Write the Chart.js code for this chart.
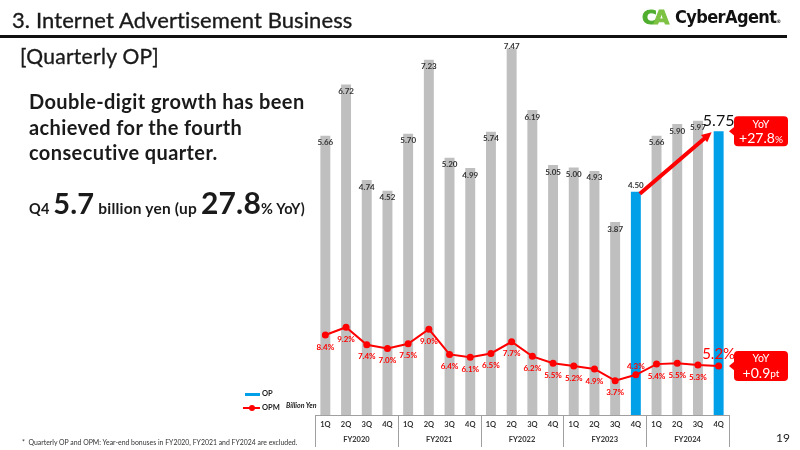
<!DOCTYPE html>
<html>
<head>
<meta charset="utf-8">
<script src="https://cdn.jsdelivr.net/npm/chart.js@4"></script>
<style>
body{margin:0;width:800px;height:450px;position:relative;overflow:hidden;background:#fff;font-family:Lato,"Noto Sans",sans-serif;color:#1a1a1a}
#c{position:absolute;left:0;top:0}
.t{position:absolute;white-space:nowrap}
.med{-webkit-text-stroke:0.35px #1a1a1a}
</style>
</head>
<body>
<canvas id="c" width="800" height="450"></canvas>

<div class="t med" style="left:12px;top:6px;font-size:22px;letter-spacing:0.1px">3. Internet Advertisement Business</div>
<div style="position:absolute;left:0;top:35px;width:787px;height:3px;background:#111"></div>
<div class="t" style="left:642px;top:5px;font-size:20px;font-weight:900;font-family:'DejaVu Sans';letter-spacing:-3px;-webkit-text-stroke:1px #4fae2e"><span style="color:#4fae2e">C</span><span style="color:#7dc242;-webkit-text-stroke:1px #7dc242">A</span></div>
<div class="t" style="left:675px;top:6px;font-size:18px;font-weight:bold;font-family:'DejaVu Sans Condensed','DejaVu Sans';color:#111;letter-spacing:-0.6px">CyberAgent<span style="font-size:5px">&reg;</span></div>

<div class="t med" style="left:20px;top:43px;font-size:21px;letter-spacing:0.3px">[Quarterly OP]</div>

<div class="t" style="left:29px;top:89px;font-size:20px;font-weight:bold;line-height:25.5px;letter-spacing:0.4px">Double-digit growth has been<br>achieved for the fourth<br>consecutive quarter.</div>

<div class="t" style="left:29px;top:184px;font-weight:bold;letter-spacing:0.2px">
  <span style="font-size:14.5px">Q4 </span><span style="font-size:29px">5.7</span><span style="font-size:15.5px"> billion yen (up </span><span style="font-size:30px">27.8</span><span style="font-size:14.5px">% YoY)</span>
</div>

<div style="position:absolute;left:245px;top:393px;width:15px;height:3px;background:#00a0e9"></div>
<div class="t" style="left:262px;top:389px;font-size:7.5px;font-weight:bold">OP</div>
<div style="position:absolute;left:243px;top:407px;width:17px;height:2px;background:#ff0000"></div>
<div style="position:absolute;left:249px;top:405px;width:6px;height:6px;border-radius:3px;background:#ff0000"></div>
<div class="t" style="left:262px;top:403px;font-size:7.5px;font-weight:bold">OPM</div>
<div class="t" style="left:286px;top:401px;font-size:7px;font-weight:bold;font-style:italic">Billion Yen</div>

<div class="t" style="left:22px;top:438px;font-size:6.9px;color:#333">*&nbsp; Quarterly OP and OPM: Year-end bonuses in FY2020, FY2021 and FY2024 are excluded.</div>
<div class="t" style="left:776px;top:430px;font-size:12px">19</div>

<script>
const quarters = ['1Q','2Q','3Q','4Q','1Q','2Q','3Q','4Q','1Q','2Q','3Q','4Q','1Q','2Q','3Q','4Q','1Q','2Q','3Q','4Q'];
const fiscalYears = ['FY2020','FY2021','FY2022','FY2023','FY2024'];
const opValues = [5.66, 6.72, 4.74, 4.52, 5.70, 7.23, 5.20, 4.99, 5.74, 7.47, 6.19, 5.05, 5.00, 4.93, 3.87, 4.50, 5.66, 5.90, 5.97, 5.75];
const opmValues = [8.4, 9.2, 7.4, 7.0, 7.5, 9.0, 6.4, 6.1, 6.5, 7.7, 6.2, 5.5, 5.2, 4.9, 3.7, 4.3, 5.4, 5.5, 5.3, 5.2];
const highlight = [15, 19];

const GRAY = '#bfbfbf', BLUE = '#00a0e9', RED = '#ff0000';
const Y_MIN = -0.124, Y_MAX = 7.64;
const last = opValues.length - 1, prev = last - 4;

function arrow(ctx, x0, y0, x1, y1) {
  const ang = Math.atan2(y1 - y0, x1 - x0), hl = 11;
  ctx.strokeStyle = RED; ctx.fillStyle = RED; ctx.lineWidth = 4;
  ctx.beginPath();
  ctx.moveTo(x0, y0);
  ctx.lineTo(x1 - Math.cos(ang) * hl * 0.8, y1 - Math.sin(ang) * hl * 0.8);
  ctx.stroke();
  ctx.beginPath();
  ctx.moveTo(x1, y1);
  ctx.lineTo(x1 - hl * Math.cos(ang - 0.45), y1 - hl * Math.sin(ang - 0.45));
  ctx.lineTo(x1 - hl * Math.cos(ang + 0.45), y1 - hl * Math.sin(ang + 0.45));
  ctx.closePath();
  ctx.fill();
}

function callout(ctx, x0, cy, big, small) {
  const w = 54, h = 30, r = 4;
  ctx.fillStyle = RED;
  ctx.beginPath();
  ctx.roundRect(x0, cy - h / 2, w, h, r);
  ctx.fill();
  ctx.beginPath();
  ctx.moveTo(x0 + 1, cy - 5); ctx.lineTo(x0 - 5, cy); ctx.lineTo(x0 + 1, cy + 5);
  ctx.fill();
  ctx.fillStyle = '#fff';
  ctx.textAlign = 'center'; ctx.textBaseline = 'middle';
  ctx.font = '10.5px Lato';
  ctx.fillText('YoY', x0 + w / 2, cy - 7);
  ctx.font = '14px Lato';
  const bw = ctx.measureText(big).width;
  ctx.font = '10px Lato';
  const sw = ctx.measureText(small).width;
  let sx = x0 + w / 2 - (bw + sw) / 2;
  ctx.textAlign = 'left';
  ctx.font = '14px Lato';
  ctx.fillText(big, sx, cy + 7);
  ctx.font = '10px Lato';
  ctx.fillText(small, sx + bw, cy + 8);
}

const overlay = {
  id: 'overlay',
  afterDatasetsDraw(chart) {
    const ctx = chart.ctx, xs = chart.scales.x, area = chart.chartArea;
    const bars = chart.getDatasetMeta(0).data, pts = chart.getDatasetMeta(1).data;
    ctx.save();

    arrow(ctx, bars[prev].x + 4, bars[prev].y + 2, bars[last].x - 7, bars[last].y + 1);

    ctx.textAlign = 'center'; ctx.textBaseline = 'middle';
    const maxV = Math.max(...opValues);
    bars.forEach((b, i) => {
      let y = b.y + 7, font = 'bold 8px Lato', col = '#333';
      if (i === last) { font = '16px Lato'; y = b.y - 10; col = '#111'; }
      else if (i === prev) { y = b.y - 6; }
      else if (opValues[i] === maxV) { y = b.y - 2; }
      ctx.font = font; ctx.fillStyle = col;
      ctx.fillText(opValues[i].toFixed(2), b.x, y);
    });

    pts.forEach((p, i) => {
      let y = p.y + 12, font = 'bold 8px Lato';
      if (i === last) { font = '15px Lato'; y = p.y - 12; }
      else if (i === prev) { y = p.y - 8; }
      ctx.font = font; ctx.fillStyle = RED;
      ctx.fillText(opmValues[i].toFixed(1) + '%', p.x, y);
    });

    const yoyOp = ((opValues[last] / opValues[prev] - 1) * 100).toFixed(1);
    const yoyOpm = (opmValues[last] - opmValues[prev]).toFixed(1);
    callout(ctx, area.right + 5, bars[last].y, '+' + yoyOp, '%');
    callout(ctx, area.right + 5, pts[last].y, '+' + yoyOpm, 'pt');

    // fiscal year box under the quarters
    const step = xs.getPixelForValue(1) - xs.getPixelForValue(0);
    ctx.strokeStyle = '#a0a0a0'; ctx.lineWidth = 1;
    ctx.beginPath();
    ctx.moveTo(area.left, area.bottom + 0.5); ctx.lineTo(area.right, area.bottom + 0.5);
    for (let g = 0; g <= fiscalYears.length; g++) {
      const bx = Math.round(xs.getPixelForValue(g * 4) - step / 2) + 0.5;
      ctx.moveTo(bx, area.bottom); ctx.lineTo(bx, area.bottom + 32);
    }
    ctx.stroke();
    ctx.font = 'bold 7.5px Lato'; ctx.fillStyle = '#333'; ctx.textAlign = 'center';
    fiscalYears.forEach((fy, g) => {
      const cx = (xs.getPixelForValue(g * 4) + xs.getPixelForValue(g * 4 + 3)) / 2;
      ctx.fillText(fy, cx, area.bottom + 25);
    });
    ctx.restore();
  }
};

new Chart('c', {
  type: 'bar',
  data: {
    labels: quarters,
    datasets: [{
      type: 'bar',
      label: 'OP',
      data: opValues,
      backgroundColor: c => highlight.includes(c.dataIndex) ? BLUE : GRAY,
      barPercentage: 0.48,
      categoryPercentage: 1,
      base: Y_MIN,
      yAxisID: 'y',
      order: 2
    }, {
      type: 'line',
      label: 'OPM',
      data: opmValues,
      borderColor: RED,
      backgroundColor: RED,
      borderWidth: 2,
      pointRadius: 3.5,
      pointBorderWidth: 0,
      tension: 0,
      yAxisID: 'y2',
      order: 1
    }]
  },
  options: {
    responsive: false,
    animation: false,
    layout: { padding: { left: 315, right: 71, top: 40, bottom: 0 } },
    plugins: { legend: { display: false }, tooltip: { enabled: false } },
    scales: {
      x: {
        grid: { display: false, drawTicks: false },
        border: { display: false },
        ticks: { font: { family: 'Lato', size: 7.5, weight: 'bold' }, color: '#333', padding: 5, maxRotation: 0, autoSkip: false },
        afterFit(s) { s.height = 35; }
      },
      y: { display: false, min: Y_MIN, max: Y_MAX },
      y2: { display: false, min: 0.16, max: 38.78 }
    }
  },
  plugins: [overlay]
});
</script>
</body>
</html>
